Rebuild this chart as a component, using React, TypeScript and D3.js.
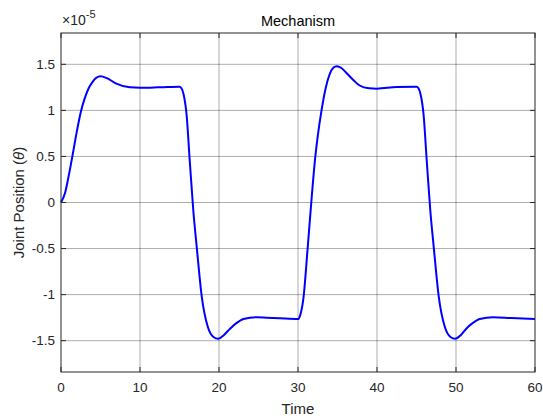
import React from "react";
import * as d3 from "d3";

// time samples and joint position (x 1e-5)
const time = [
  0, 0.5, 1.0, 1.5, 2.0, 2.5, 3.0, 3.5, 4.0, 4.5, 5.0, 5.8, 7.0, 8.7, 10, 11.3,
  13, 15.0, 15.25, 15.5, 15.9, 16.3, 16.75, 17.2, 17.8, 18.6, 19.3, 19.9, 20.6,
  21.4, 22.2, 23.1, 24.8, 26, 27.7, 30.0, 30.25, 30.7, 31.2, 31.7, 32.1, 32.5,
  33.0, 33.5, 34.0, 34.5, 34.9, 35.5, 36.2, 37.0, 37.8, 39.0, 40, 42.5, 45.0,
  45.25, 45.5, 45.9, 46.3, 46.75, 47.2, 47.8, 48.6, 49.3, 49.9, 50.6, 51.3,
  52.1, 53.0, 54.7, 57, 60,
];
const position = [
  0, 0.1, 0.3, 0.53, 0.77, 0.98, 1.13, 1.24, 1.31, 1.355, 1.37, 1.35, 1.29,
  1.25, 1.245, 1.247, 1.252, 1.256, 1.24, 1.18, 0.95, 0.45, -0.09, -0.5, -1.01,
  -1.355, -1.46, -1.48, -1.44, -1.37, -1.31, -1.265, -1.245, -1.25, -1.257,
  -1.265, -1.23, -1.03, -0.52, 0.02, 0.42, 0.72, 1.01, 1.24, 1.39, 1.465, 1.48,
  1.46, 1.4, 1.33, 1.27, 1.24, 1.236, 1.253, 1.256, 1.24, 1.18, 0.95, 0.45,
  -0.09, -0.5, -1.01, -1.355, -1.46, -1.48, -1.44, -1.37, -1.31, -1.265,
  -1.245, -1.255, -1.265,
];
const xTicks = [0, 10, 20, 30, 40, 50, 60];
const yTicks = [-1.5, -1, -0.5, 0, 0.5, 1, 1.5];

const W = 543,
  H = 416;
const margin = { top: 33, right: 8, bottom: 44, left: 61 };
const font = "'Liberation Sans', Arial, Helvetica, sans-serif";
const axisColor = "#262626";

export default function App() {
  const x = d3
    .scaleLinear()
    .domain([0, 60])
    .range([margin.left, W - margin.right]);
  const y = d3
    .scaleLinear()
    .domain([-1.84, 1.84])
    .range([H - margin.bottom, margin.top]);

  const pts: [number, number][] = time.map((t, i) => [t, position[i]]);
  const line = d3
    .line<[number, number]>()
    .x((d) => x(d[0]))
    .y((d) => y(d[1]))
    .curve(d3.curveMonotoneX);

  const x0 = margin.left,
    x1 = W - margin.right,
    y0 = margin.top,
    y1 = H - margin.bottom;
  const tl = 5;

  return (
    <div style={{ position: "absolute", left: 0, top: 0 }}>
      <svg width={W} height={H} style={{ display: "block", background: "#fff" }}>
        <rect x={0} y={0} width={W} height={H} fill="#fff" />
        {/* grid */}
        <g stroke="#000" strokeOpacity={0.32} strokeWidth={1}>
          {xTicks.slice(1, -1).map((t) => (
            <line key={"gx" + t} x1={x(t)} x2={x(t)} y1={y0} y2={y1} />
          ))}
          {yTicks.map((t) => (
            <line key={"gy" + t} x1={x0} x2={x1} y1={y(t)} y2={y(t)} />
          ))}
        </g>
        {/* data */}
        <path d={line(pts) || ""} fill="none" stroke="#0000ff" strokeWidth={2} />
        {/* box and ticks */}
        <g stroke={axisColor} strokeWidth={1} fill="none">
          <rect x={x0} y={y0} width={x1 - x0} height={y1 - y0} />
          {xTicks.map((t) => (
            <g key={"tx" + t}>
              <line x1={x(t)} x2={x(t)} y1={y1} y2={y1 - tl} />
              <line x1={x(t)} x2={x(t)} y1={y0} y2={y0 + tl} />
            </g>
          ))}
          {yTicks.map((t) => (
            <g key={"ty" + t}>
              <line x1={x0} x2={x0 + tl} y1={y(t)} y2={y(t)} />
              <line x1={x1} x2={x1 - tl} y1={y(t)} y2={y(t)} />
            </g>
          ))}
        </g>
        {/* tick labels */}
        <g fontFamily={font} fontSize={13.5} fill={axisColor}>
          {xTicks.map((t) => (
            <text key={"lx" + t} x={x(t)} y={y1 + 20} textAnchor="middle">
              {t}
            </text>
          ))}
          {yTicks.map((t) => (
            <text
              key={"ly" + t}
              x={x0 - 6}
              y={y(t)}
              dy="0.35em"
              textAnchor="end"
            >
              {t}
            </text>
          ))}
          <text x={x0 + 1} y={y0 - 8} fontSize={14}>
            ×10
            <tspan dy={-7} fontSize={11}>
              -5
            </tspan>
          </text>
        </g>
        {/* labels */}
        <text
          x={(x0 + x1) / 2}
          y={y0 - 7}
          textAnchor="middle"
          fontFamily={font}
          fontSize={14.5}
          fill="#000"
        >
          Mechanism
        </text>
        <text
          x={(x0 + x1) / 2}
          y={y1 + 42}
          textAnchor="middle"
          fontFamily={font}
          fontSize={15}
          fill={axisColor}
        >
          Time
        </text>
        <text
          transform={`translate(${24},${(y0 + y1) / 2}) rotate(-90)`}
          textAnchor="middle"
          fontFamily={font}
          fontSize={15}
          fill={axisColor}
        >
          Joint Position (<tspan fontStyle="italic">θ</tspan>)
        </text>
      </svg>
    </div>
  );
}
